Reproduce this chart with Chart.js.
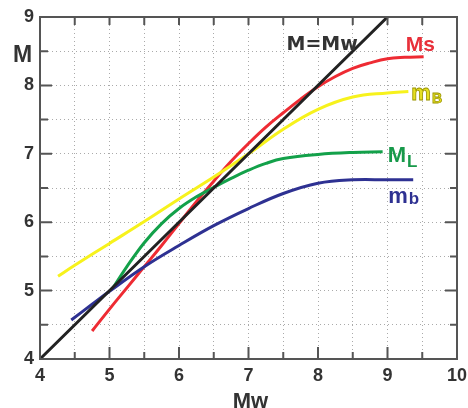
<!DOCTYPE html>
<html>
<head>
<meta charset="utf-8">
<script src="https://cdn.jsdelivr.net/npm/chart.js@4"></script>
<style>
    html, body { margin: 0; padding: 0; background: #fff; }
    #wrap { width: 468px; height: 408px; }
</style>
</head>
<body>
<div id="wrap"><canvas id="chart" width="468" height="408"></canvas></div>
<script>
// Mw on the x axis, magnitude on the y axis
const xTicks = [4, 5, 6, 7, 8, 9, 10];
const yTicks = [4, 5, 6, 7, 8, 9];

const mwX = [4, 9];
const mwY = [4, 9];

const msX = [4.75, 5.0, 5.25, 5.5, 5.75, 6.0, 6.25, 6.5, 6.75, 7.0, 7.25, 7.5, 7.75, 8.0, 8.25, 8.5, 8.75, 9.0, 9.25, 9.52];
const msY = [4.41, 4.73, 5.04, 5.35, 5.66, 5.98, 6.3, 6.6, 6.89, 7.15, 7.39, 7.6, 7.8, 7.98, 8.13, 8.25, 8.33, 8.39, 8.41, 8.42];

const mBX = [4.26, 4.5, 5.0, 5.5, 6.0, 6.5, 7.0, 7.5, 8.0, 8.5, 9.0, 9.3];
const mBY = [5.21, 5.37, 5.69, 6.01, 6.34, 6.66, 7.0, 7.36, 7.65, 7.83, 7.89, 7.91];

const mlX = [5.05, 5.25, 5.5, 5.75, 6.0, 6.25, 6.5, 6.75, 7.0, 7.25, 7.5, 8.0, 8.5, 8.93];
const mlY = [5.04, 5.35, 5.7, 5.98, 6.2, 6.37, 6.51, 6.64, 6.76, 6.86, 6.93, 6.99, 7.02, 7.03];

const mbX = [4.45, 4.75, 5.0, 5.5, 6.0, 6.5, 7.0, 7.5, 8.0, 8.5, 9.0, 9.37];
const mbY = [4.57, 4.8, 4.99, 5.35, 5.66, 5.95, 6.2, 6.42, 6.57, 6.62, 6.62, 6.62];

function toPoints(xs, ys) {
    return xs.map((x, i) => ({ x: x, y: ys[i] }));
}

const FONT = '"Liberation Sans", Arial, Helvetica, sans-serif';

function curve(label, xs, ys, color) {
    return {
        label: label,
        data: toPoints(xs, ys),
        borderColor: color,
        borderWidth: 3,
        pointRadius: 0,
        showLine: true,
        fill: false,
        tension: 0.4
    };
}

// frame with inward ticks, axis titles and curve labels
const framePlugin = {
    id: 'frame',
    afterDatasetsDraw(chart) {
        const ctx = chart.ctx;
        const a = chart.chartArea;
        const sx = chart.scales.x;
        const sy = chart.scales.y;
        ctx.save();
        ctx.strokeStyle = '#555';
        ctx.lineWidth = 2;
        ctx.strokeRect(a.left, a.top, a.right - a.left, a.bottom - a.top);

        ctx.beginPath();
        for (let v = 4.5; v < 10; v += 0.5) {
            const px = sx.getPixelForValue(v);
            const major = Number.isInteger(v);
            ctx.moveTo(px, a.bottom);
            ctx.lineTo(px, a.bottom - (major ? 12 : 7));
            ctx.moveTo(px, a.top);
            ctx.lineTo(px, a.top + 8);
        }
        for (let v = 4.5; v < 9; v += 0.5) {
            const py = sy.getPixelForValue(v);
            const major = Number.isInteger(v);
            ctx.moveTo(a.left, py);
            ctx.lineTo(a.left + (major ? 12 : 8), py);
            ctx.moveTo(a.right, py);
            ctx.lineTo(a.right - (major ? 12 : 7), py);
        }
        ctx.stroke();

        // axis titles
        ctx.fillStyle = '#333';
        ctx.font = 'bold 23px ' + FONT;
        ctx.textAlign = 'center';
        ctx.textBaseline = 'alphabetic';
        ctx.fillText('M', 22.5, sy.getPixelForValue(8.5) + 11);
        ctx.font = 'bold 22px ' + FONT;
        ctx.fillText('Mw', (a.left + a.right) / 2 + 2, 408);

        // curve labels, anchored to the end of each curve
        function label(main, sub, color, stroke, x, y, dx, dy, size, subSize, subDy, family) {
            const px = sx.getPixelForValue(x) + dx;
            const py = sy.getPixelForValue(y) + dy;
            ctx.textAlign = 'left';
            ctx.font = 'bold ' + size + 'px ' + (family || FONT);
            const w = ctx.measureText(main).width;
            ctx.fillStyle = color;
            ctx.fillText(main, px, py);
            if (stroke) {
                ctx.strokeStyle = stroke;
                ctx.lineWidth = 0.8;
                ctx.strokeText(main, px, py);
            }
            if (sub) {
                ctx.font = 'bold ' + subSize + 'px ' + FONT;
                ctx.fillText(sub, px + w + 1, py + subDy);
                if (stroke) ctx.strokeText(sub, px + w + 1, py + subDy);
            }
        }
        label('M=Mw', '', '#333', null, mwX[1], mwY[1], -101, 33, 19, 0, 0, '"DejaVu Sans", sans-serif');
        label('Ms', '', '#e8303a', null, msX[msX.length - 1], msY[msY.length - 1], -18, -6, 21);
        label('m', 'B', '#e6e020', '#9a9400', mBX[mBX.length - 1], mBY[mBY.length - 1], 3, 8, 22, 14, 3);
        label('M', 'L', '#17994a', null, mlX[mlX.length - 1], mlY[mlY.length - 1], 5, 10, 22, 17, 5);
        label('m', 'b', '#2e3192', null, mbX[mbX.length - 1], mbY[mbY.length - 1], -25, 23, 22, 17, 1);
        ctx.restore();
    }
};

const chart = new Chart(document.getElementById('chart'), {
    type: 'scatter',
    data: {
        datasets: [
            curve('M=Mw', mwX, mwY, '#222'),
            curve('mb', mbX, mbY, '#2e3192'),
            curve('ML', mlX, mlY, '#13a14a'),
            curve('mB', mBX, mBY, '#f7f21c'),
            curve('Ms', msX, msY, '#ee2b33')
        ]
    },
    options: {
        responsive: false,
        animation: false,
        layout: { padding: { top: 17, right: 11, left: 0, bottom: 0 } },
        plugins: {
            legend: { display: false },
            tooltip: { enabled: false }
        },
        scales: {
            x: {
                type: 'linear',
                min: xTicks[0],
                max: xTicks[xTicks.length - 1],
                afterFit: s => { s.height = 49; s.paddingRight = 0; s.paddingLeft = 0; },
                afterBuildTicks: s => {
                    s.ticks = [];
                    for (let v = xTicks[0]; v <= xTicks[xTicks.length - 1]; v += 0.5) s.ticks.push({ value: v });
                },
                ticks: {
                    autoSkip: false,
                    maxRotation: 0,
                    padding: 6,
                    color: '#333',
                    font: { family: FONT, size: 18, weight: 'bold' },
                    callback: v => xTicks.includes(v) ? String(v) : ''
                },
                grid: { color: '#aaa', lineWidth: 1, drawTicks: false },
                border: { display: false, dash: [1, 3] }
            },
            y: {
                type: 'linear',
                min: yTicks[0],
                max: yTicks[yTicks.length - 1],
                afterFit: s => { s.width = 40; s.paddingTop = 0; s.paddingBottom = 0; },
                afterBuildTicks: s => {
                    s.ticks = [];
                    for (let v = yTicks[0]; v <= yTicks[yTicks.length - 1]; v += 0.5) s.ticks.push({ value: v });
                },
                ticks: {
                    autoSkip: false,
                    padding: 6,
                    color: '#333',
                    font: { family: FONT, size: 18, weight: 'bold' },
                    callback: v => yTicks.includes(v) ? String(v) : ''
                },
                grid: { color: '#aaa', lineWidth: 1, drawTicks: false },
                border: { display: false, dash: [1, 3] }
            }
        }
    },
    plugins: [framePlugin]
});
</script>
</body>
</html>
